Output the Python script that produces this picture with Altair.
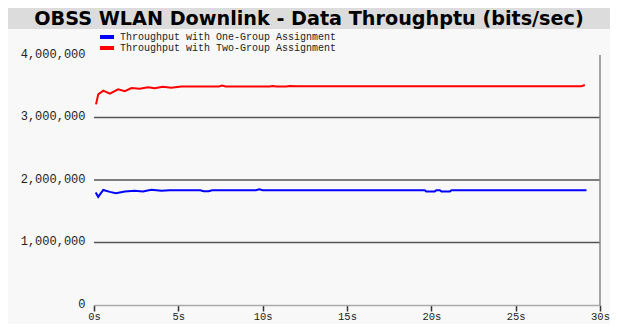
import altair as alt
import pandas as pd

# ---- data ----
series_names = ["Throughput with One-Group Assignment", "Throughput with Two-Group Assignment"]
series_colors = ["#0000ff", "#ff0000"]

one_t = [0.1, 0.25, 0.55, 0.94, 1.3, 1.83, 2.4, 2.9, 3.4, 4.0, 4.5, 6.3, 6.5, 6.8, 7.0,
         9.6, 9.8, 10.0, 19.6, 19.7, 20.2, 20.3, 20.5, 20.6, 21.1, 21.2, 29.2]
one_v = [1.80, 1.73, 1.84, 1.81, 1.79, 1.817, 1.828, 1.817, 1.843, 1.828, 1.835, 1.835,
         1.82, 1.82, 1.835, 1.835, 1.85, 1.838, 1.838, 1.818, 1.818, 1.838, 1.838, 1.818,
         1.818, 1.838, 1.838]

two_t = [0.12, 0.25, 0.55, 0.94, 1.43, 1.83, 2.22, 2.71, 3.2, 3.6, 4.08, 4.58, 5.17,
         7.4, 7.6, 7.8, 10.4, 10.6, 10.8, 11.4, 11.6, 12.0, 28.9, 29.1]
two_v = [3.21, 3.37, 3.43, 3.38, 3.45, 3.42, 3.47, 3.46, 3.485, 3.47, 3.49, 3.475, 3.495,
         3.495, 3.51, 3.495, 3.495, 3.505, 3.495, 3.495, 3.505, 3.5, 3.5, 3.52]

x_ticks = [0, 5, 10, 15, 20, 25, 30]
y_ticks = [0, 1000000, 2000000, 3000000, 4000000]
grid_values = [1000000, 2000000, 3000000]
title_text = "OBSS WLAN Downlink - Data Throughptu (bits/sec)"

rows = []
for t, v in zip(one_t, one_v):
    rows.append({"time": t, "value": v * 1e6, "series": series_names[0]})
for t, v in zip(two_t, two_v):
    rows.append({"time": t, "value": v * 1e6, "series": series_names[1]})
df = pd.DataFrame(rows)
leg_df = pd.DataFrame({"name": series_names, "color": series_colors})

W, H = 506, 250
PAD_L, PAD_T = 86, 47
x_scale = alt.Scale(domain=[0, 30], nice=False, zero=False)
y_scale = alt.Scale(domain=[0, 4000000], nice=False)

mono = "Liberation Mono"

# title bar background (decoration)
bar = alt.Chart(pd.DataFrame({"a": [0]})).mark_rect(color="#dcdcdc").encode(
    x=alt.value(-PAD_L), x2=alt.value(602 - PAD_L), y=alt.value(-PAD_T), y2=alt.value(-26)
)

title = alt.Chart(pd.DataFrame({"t": [title_text]})).mark_text(
    font="DejaVu Sans", fontSize=19.2, fontWeight="bold", color="#000000",
    align="center", baseline="middle"
).encode(text="t:N", x=alt.value(215), y=alt.value(-36))

grid = alt.Chart(pd.DataFrame({"g": grid_values})).mark_rule(
    color="#555555", strokeWidth=1.5
).encode(y=alt.Y("g:Q", scale=y_scale))

right_border = alt.Chart(pd.DataFrame({"a": [0]})).mark_rule(
    color="#8a8a8a", strokeWidth=1.5
).encode(x=alt.datum(30, scale=x_scale), y=alt.datum(0), y2=alt.datum(4000000))

lines = alt.Chart(df).mark_line(strokeWidth=2, interpolate="linear").encode(
    x=alt.X("time:Q", scale=x_scale,
            axis=alt.Axis(values=x_ticks, title=None, grid=False,
                          labelExpr="datum.value + 's'",
                          labelFont=mono, labelFontSize=10.5, labelColor="#222222",
                          labelPadding=0, tickSize=6, tickColor="#333333", tickWidth=1.5,
                          domainColor="#aaaaaa", domainWidth=1.5,
                          labelFlush=False, labelOverlap=False)),
    y=alt.Y("value:Q", scale=y_scale,
            axis=alt.Axis(values=y_ticks, title=None, grid=False, format=",d",
                          labelFont=mono, labelFontSize=12, labelColor="#222222",
                          ticks=False, tickSize=0, labelPadding=9, domain=False,
                          labelOffset=-2)),
    color=alt.Color("series:N",
                    scale=alt.Scale(domain=series_names, range=series_colors),
                    legend=None),
)

main = alt.layer(bar, title, grid, right_border, lines)

# legend (two tightly spaced rows)
leg_y = alt.Y("name:N", scale=alt.Scale(type="point", domain=series_names,
                                        range=[-18, -7], padding=0), axis=None)
leg_sw = alt.Chart(leg_df).mark_rule(strokeWidth=4).encode(
    x=alt.value(6), x2=alt.value(20), y=leg_y,
    color=alt.Color("color:N", scale=None)
)
leg_tx = alt.Chart(leg_df).mark_text(
    align="left", baseline="middle", font=mono, fontSize=10, color="#222222"
).encode(x=alt.value(26), y=leg_y, text="name:N")
legend = alt.layer(leg_sw, leg_tx)

chart = alt.layer(main, legend).resolve_scale(y="independent", color="independent").properties(
    width=W, height=H,
    autosize=alt.AutoSizeParams(type="none"),
    padding={"left": PAD_L, "top": PAD_T, "right": 602 - PAD_L - W, "bottom": 316 - PAD_T - H},
    background="#f8f8f8",
).configure_view(stroke=None)

chart.save("out.html", embed_options={"renderer": "svg", "actions": False})
